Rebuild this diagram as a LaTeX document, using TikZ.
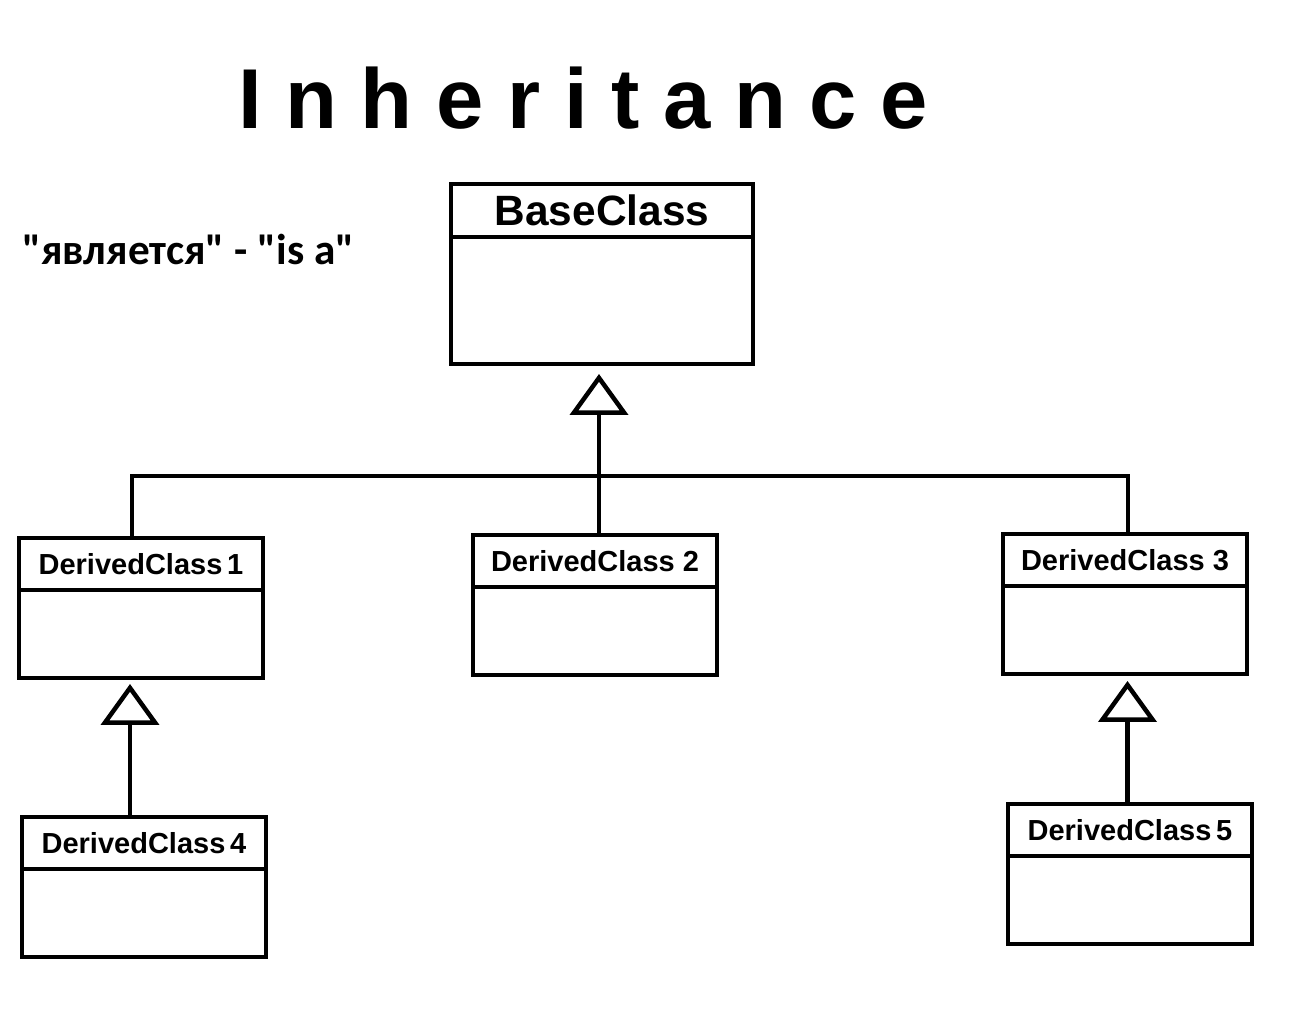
\documentclass[tikz,border=0pt]{standalone}
\usepackage{fontspec}
\setmainfont{Liberation Sans}
\newfontfamily\calibfont[Ligatures=TeXOff]{Carlito}
\usetikzlibrary{arrows.meta}
\tikzset{
  boxline/.style={draw=black, line width=2.25pt, outer sep=0pt, inner sep=0pt, anchor=north},
  hdr/.style={boxline, minimum width=122pt, minimum height=26pt, font=\bfseries\fontsize{14.5}{14.5}\selectfont},
  bodybox/.style={boxline, minimum width=122pt, minimum height=44pt},
  conn/.style={line width=2.25pt},
  inh/.style={line width=2.25pt, -{Triangle[open, length=20.5pt, width=29pt]}},
}
\begin{document}
\begin{tikzpicture}[x=0.5pt,y=-0.5pt]
\fill[white] (0,0) rectangle (1292,1036);
\useasboundingbox (0,0) rectangle (1292,1036);

% title and note
\node[font=\bfseries\fontsize{42.5}{42.5}\selectfont, anchor=base, inner sep=0pt] (title) at (583,129) {I n h e r i t a n c e};
\node[font=\calibfont\bfseries\fontsize{21.6}{21.6}\selectfont, anchor=base west, inner sep=0pt] (isa) at (22,265) {"является" - "is a"};

% BaseClass
\node[boxline, minimum width=151pt, minimum height=26.5pt, font=\bfseries\fontsize{21.2}{21.2}\selectfont] (base) at (602,184) {BaseClass};
\node[boxline, minimum width=151pt, minimum height=63.5pt] (baseb) at (base.south) {};

% Derived classes
\node[hdr] (dc1) at (141,538) {DerivedClass\,1};
\node[bodybox] (dc1b) at (dc1.south) {};
\node[hdr] (dc2) at (595,535) {DerivedClass 2};
\node[bodybox] (dc2b) at (dc2.south) {};
\node[hdr] (dc3) at (1125,534) {DerivedClass 3};
\node[bodybox] (dc3b) at (dc3.south) {};
\node[hdr] (dc4) at (144,817) {DerivedClass\,4};
\node[bodybox] (dc4b) at (dc4.south) {};
\node[hdr] (dc5) at (1130,804) {DerivedClass\,5};
\node[bodybox] (dc5b) at (dc5.south) {};

% connectors
\coordinate (busL) at (132,476);
\coordinate (busR) at (1128,476);
\draw[conn] (dc1.north -| busL) -- (busL) -- (busR) -- (dc3.north -| busR);
\draw[inh] ([xshift=2pt]dc2.north) -- ([xshift=-1.5pt,yshift=-5pt]baseb.south);
\draw[inh] ([xshift=-7pt]dc4.north) -- ([xshift=-5.5pt,yshift=-3pt]dc1b.south);
\draw[inh] ([xshift=-1.25pt]dc5.north) -- ([xshift=1.25pt,yshift=-3.5pt]dc3b.south);
\end{tikzpicture}
\end{document}
